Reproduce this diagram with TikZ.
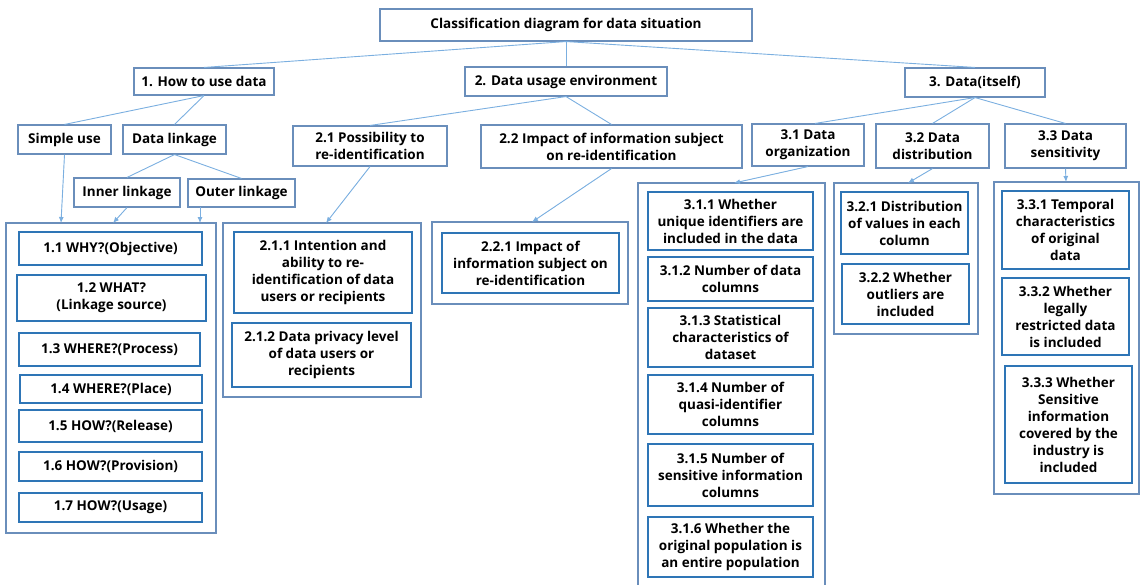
\documentclass[tikz,border=0pt]{standalone}
\usepackage{fontspec}
\setmainfont{Open Sans}
\usetikzlibrary{arrows.meta}
\definecolor{outerc}{HTML}{6A8EBB}
\definecolor{innerc}{HTML}{2E75B6}
\definecolor{linec}{HTML}{7BAFE0}
\newcommand\bx[7]{\node[#6, minimum width={(#4-#2)*1pt}, minimum height={(#5-#3)*1pt}] (#1) at ({(#2+#4)/2},{(#3+#5)/2}) {#7};}
\tikzset{
  obox/.style={draw=outerc, line width=1.1pt, inner sep=0pt, align=center, font=\fontsize{13.5}{17}\selectfont\bfseries},
  ibox/.style={draw=innerc, line width=1.2pt, inner sep=0pt, align=center, font=\fontsize{13.5}{17}\selectfont\bfseries},
  cbox/.style={draw=outerc, line width=1.1pt, inner sep=0pt},
  conn/.style={draw=linec, line width=0.9pt},
  arr/.style={draw=linec, line width=0.9pt, -{Latex[length=6pt,width=5pt]}, fill=linec}
}
\begin{document}
\begin{tikzpicture}[x=1pt,y=-1pt]
\useasboundingbox (0,0) rectangle (1140,584);
% top level
\bx{top}{380}{9}{752}{41}{obox}{Classification diagram for data situation}
\bx{h1}{134}{68}{274}{95}{obox}{1. How to use data}
\bx{h2}{465}{67}{667}{96}{obox}{2. Data usage environment}
\bx{h3}{905}{68}{1045}{97}{obox}{3. Data(itself)}
\bx{simple}{18}{125}{111}{154}{obox}{Simple use}
\bx{link}{123}{125}{226}{154}{obox}{Data linkage}
\bx{inner}{74}{178}{180}{207}{obox}{Inner linkage}
\bx{outer}{188}{179}{295}{207}{obox}{Outer linkage}
\bx{p21}{293}{126}{447}{166}{obox}{2.1 Possibility to\\re-identification}
\bx{p22}{481}{125}{742}{168}{obox}{2.2 Impact of information subject\\on re-identification}
\bx{p31}{752}{124}{864}{166}{obox}{3.1 Data\\organization}
\bx{p32}{876}{124}{989}{168}{obox}{3.2 Data\\distribution}
\bx{p33}{1005}{124}{1126}{168}{obox}{3.3 Data\\sensitivity}
% containers
\bx{c1}{6}{223}{216}{533}{cbox}{}
\bx{c2}{223}{223}{421}{397}{cbox}{}
\bx{c22}{432}{222}{628}{304}{cbox}{}
\bx{c31}{638}{183}{825}{600}{cbox}{}
\bx{c32}{834}{183}{978}{334}{cbox}{}
\bx{c33}{994}{182}{1139}{494}{cbox}{}
% inner boxes
\bx{b11}{19}{232}{202}{265}{ibox}{1.1 WHY?(Objective)}
\bx{b12}{17}{275}{206}{321}{ibox}{1.2 WHAT?\\(Linkage source)}
\bx{b13}{19}{333}{200}{366}{ibox}{1.3 WHERE?(Process)}
\bx{b14}{20}{375}{202}{403}{ibox}{1.4 WHERE?(Place)}
\bx{b15}{19}{410}{202}{442}{ibox}{1.5 HOW?(Release)}
\bx{b16}{19}{452}{202}{481}{ibox}{1.6 HOW?(Provision)}
\bx{b17}{19}{493}{202}{522}{ibox}{1.7 HOW?(Usage)}
\bx{b211}{234}{232}{412}{313}{ibox}{2.1.1 Intention and\\ability to re-\\identification of data\\users or recipients}
\bx{b212}{232}{323}{411}{387}{ibox}{2.1.2 Data privacy level\\of data users or\\recipients}
\bx{b221}{442}{233}{619}{293}{ibox}{2.2.1 Impact of\\information subject on\\re-identification}
\bx{b311}{648}{192}{813}{250}{ibox}{3.1.1 Whether\\unique identifiers are\\included in the data}
\bx{b312}{648}{257}{813}{301}{ibox}{3.1.2 Number of data\\columns}
\bx{b313}{648}{308}{813}{367}{ibox}{3.1.3 Statistical\\characteristics of\\dataset}
\bx{b314}{648}{375}{813}{434}{ibox}{3.1.4 Number of\\quasi-identifier\\columns}
\bx{b315}{648}{444}{813}{506}{ibox}{3.1.5 Number of\\sensitive information\\columns}
\bx{b316}{648}{517}{813}{577}{ibox}{3.1.6 Whether the\\original population is\\an entire population}
\bx{b321}{841}{192}{968}{254}{ibox}{3.2.1 Distribution\\of values in each\\column}
\bx{b322}{842}{264}{969}{324}{ibox}{3.2.2 Whether\\outliers are\\included}
\bx{b331}{1002}{191}{1129}{269}{ibox}{3.3.1 Temporal\\characteristics\\of original\\data}
\bx{b332}{1002}{278}{1129}{355}{ibox}{3.3.2 Whether\\legally\\restricted data\\is included}
\bx{b333}{1005}{366}{1132}{483}{ibox}{3.3.3 Whether\\Sensitive\\information\\covered by the\\industry is\\included}
% tree lines
\draw[conn] (top.south) -- (h1.north);
\draw[conn] (top.south) -- (h2.north);
\draw[conn] (top.south) -- (h3.north);
\draw[conn] (h1.south) -- (simple.north);
\draw[conn] (h1.south) -- (link.north);
\draw[conn] (link.south) -- (inner.north);
\draw[conn] (link.south) -- (outer.north);
\draw[conn] (h2.south) -- (p21.north);
\draw[conn] (h2.south) -- (p22.north);
\draw[conn] (h3.south) -- ([xshift=7pt]p31.north);
\draw[conn] (h3.south) -- (p32.north);
\draw[conn] (h3.south) -- (p33.north);
% arrows
\coordinate (e1) at (61,223);
\coordinate (e2) at (113,223);
\coordinate (e3) at (200,223);
\coordinate (s3) at (200,207);
\coordinate (e4) at (326,223);
\coordinate (e5) at (532,222);
\coordinate (e6) at (734,183);
\coordinate (e7) at (908,183);
\coordinate (e8) at (1066,182);
\draw[arr] (simple.south) -- (e1);
\draw[arr] (inner.south) -- (e2);
\draw[arr] (s3) -- (e3);
\draw[arr] (p21.south) -- (e4);
\draw[arr] (p22.south) -- (e5);
\draw[arr] (p31.south) -- (e6);
\draw[arr] (p32.south) -- (e7);
\draw[arr] (p33.south) -- (e8);
\end{tikzpicture}
\end{document}
